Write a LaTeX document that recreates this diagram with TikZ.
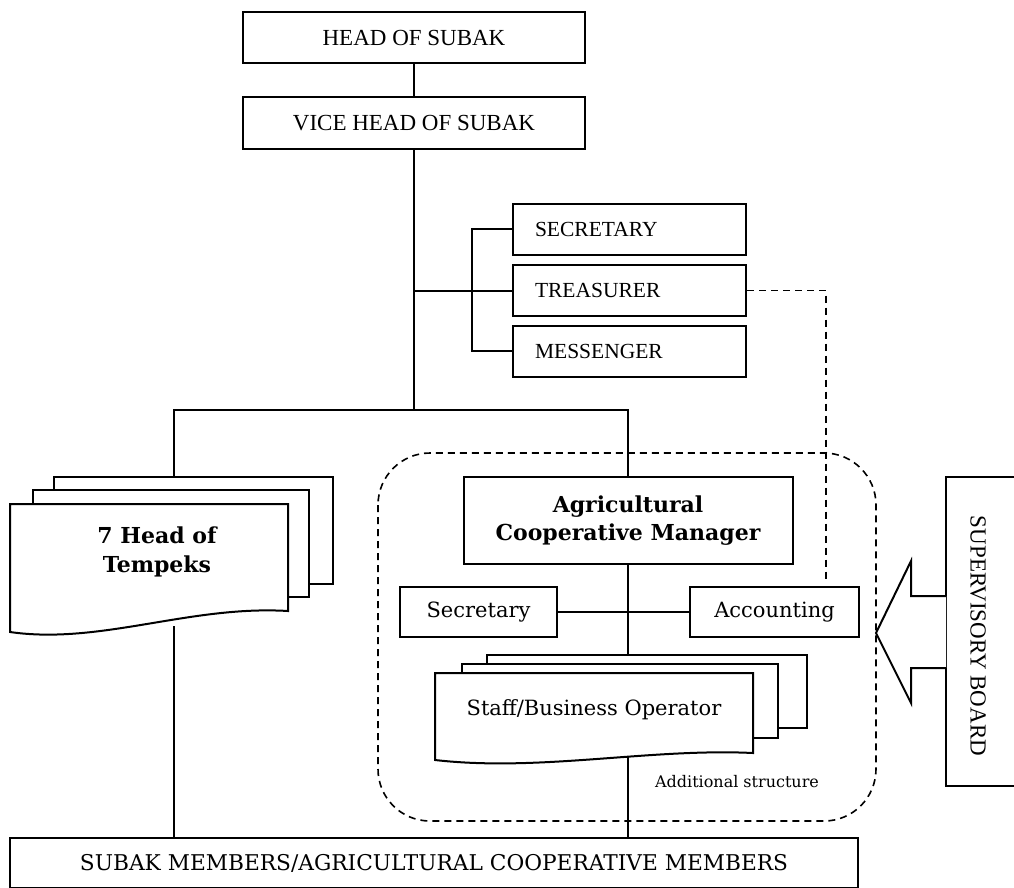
\documentclass[tikz,border=0pt]{standalone}
\usepackage{fontspec}
\setmainfont{Liberation Serif}
\newfontfamily\geo{DejaVu Serif}
\usepackage{tikz}

\begin{document}
\begin{tikzpicture}[x=1pt,y=-1pt]
\tikzset{
  line/.style={line width=2pt},
  thin line/.style={line width=1.4pt},
  dashline/.style={line width=1.6pt,dash pattern=on 7pt off 5pt},
  box/.style={draw,line width=2pt,fill=white,inner sep=0pt},
  caps/.style={font=\fontsize{23}{27}\selectfont},
  listbox/.style={box,font=\fontsize{21.5}{25}\selectfont,minimum height=51pt,
    text width=189pt,inner xsep=22pt,align=left},
  plain/.style={box,font=\geo\fontsize{21}{24}\selectfont,minimum height=50pt},
  heavy/.style={font=\geo\bfseries\fontsize{22}{28.5}\selectfont,align=center},
  doc/.style={line width=2pt,fill=white}
}
\useasboundingbox (0,0) rectangle (1014,887);

\draw[dashline,rounded corners=52pt] (378,453) rectangle (876,821);

\node[box,caps,minimum width=342pt,minimum height=51pt] (head) at (414,37.5) {HEAD OF SUBAK};
\node[box,thin line,caps,minimum width=342pt,minimum height=52pt] (vice) at (414,123) {VICE HEAD OF SUBAK};
\draw[line] (head.south) -- (vice.north);

\node[listbox] (secretary) at (629.5,229) {SECRETARY};
\node[listbox] (treasurer) at (629.5,290.5) {TREASURER};
\node[listbox] (messenger) at (629.5,351) {MESSENGER};

\coordinate (split) at (414,410);
\draw[line] (vice.south) -- (split);
\draw[line] (treasurer.west) -- (treasurer.west -| split);
\draw[line] (secretary.west) -- ++(-40,0) |- (messenger.west);

\draw[doc] (54,477) rectangle (333,584);
\draw[doc] (33,490) rectangle (309,597);
\draw[doc] (10,504) -- (288,504) -- (288,611) .. controls (190,605) and (100,645) .. (10,632) -- cycle;
\node[heavy] (tempeks) at (157,552) {7 Head of\\Tempeks};
\coordinate (tempeksTop) at (174,477);
\coordinate (tempeksBot) at (174,626);

\node[box,heavy,minimum width=329pt,minimum height=87pt] (manager) at (628,520.5) {Agricultural\\Cooperative Manager};
\draw[line] (tempeksTop) |- (split) -| (manager.north);

\node[plain,minimum width=157pt] (office) at (478.5,612) {Secretary};
\node[plain,minimum width=169pt] (accounting) at (774.5,612) {Accounting};
\coordinate (staffTop) at (628,655);
\draw[line] (manager.south) -- (staffTop);
\draw[line] (office.east) -- (accounting.west);

\coordinate (accTop) at (826,580);
\draw[dashline] (treasurer.east) -| (accTop);

\draw[doc] (487,655) rectangle (807,728);
\draw[doc] (462,664) rectangle (778,738);
\draw[doc] (435,673) -- (753,673) -- (753,753) .. controls (650,748) and (540,772) .. (435,760) -- cycle;
\node[font=\geo\fontsize{21}{24}\selectfont] (staff) at (594,710) {Staff/Business Operator};
\coordinate (staffBot) at (628,757);

\node[font=\geo\fontsize{16}{19}\selectfont] (extra) at (737,782) {Additional structure};

\node[box,thin line,font=\geo\fontsize{21.7}{25}\selectfont,minimum width=848pt,minimum height=50pt] (members) at (434,863) {SUBAK MEMBERS/AGRICULTURAL COOPERATIVE MEMBERS};
\draw[line] (tempeksBot) -- (tempeksBot |- members.north);
\draw[line] (staffBot) -- (staffBot |- members.north);

\draw[thin line] (1040,477) -- (946,477) -- (946,786) -- (1040,786);
\node[caps,rotate=-90] (board) at (978,636) {SUPERVISORY BOARD};
\draw[line,fill=white] (946,596) -- (911,596) -- (911,561) -- (876,633) -- (911,703) -- (911,668) -- (946,668);
\end{tikzpicture}
\end{document}
